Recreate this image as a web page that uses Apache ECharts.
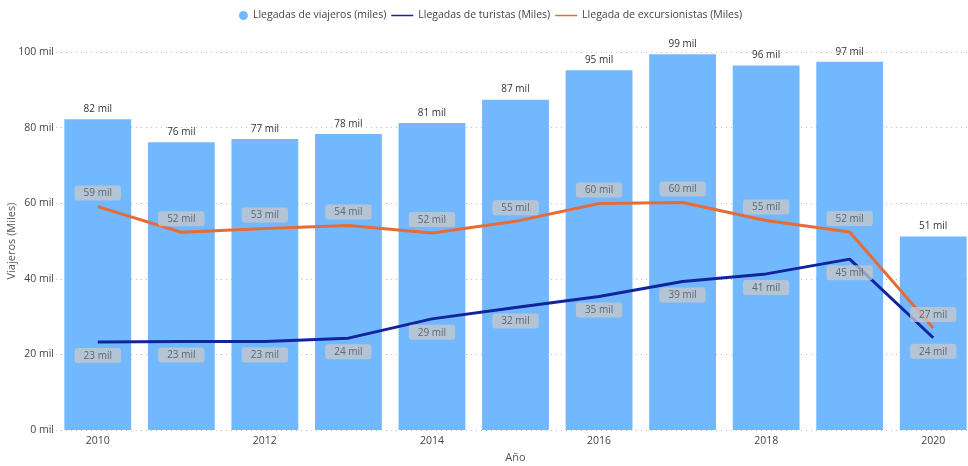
<!DOCTYPE html>
<html>
<head>
<meta charset="utf-8">
<script src="https://cdn.jsdelivr.net/npm/echarts@6/dist/echarts.min.js"></script>
<style>
  html, body { margin: 0; padding: 0; background: #fff; }
  #chart { width: 968px; height: 466px; }
</style>
</head>
<body>
<div id="chart"></div>
<script>
const years = ['2010', '2011', '2012', '2013', '2014', '2015', '2016', '2017', '2018', '2019', '2020']
const viajeros = [82.2, 76.1, 77.0, 78.3, 81.2, 87.4, 95.2, 99.4, 96.4, 97.4, 51.2]
const turistas = [23.3, 23.4, 23.4, 24.3, 29.4, 32.4, 35.3, 39.3, 41.3, 45.2, 24.4]
const excursionistas = [59.1, 52.3, 53.3, 54.1, 52.1, 55.2, 59.9, 60.2, 55.4, 52.4, 27.0]
const yTicks = [0, 20, 40, 60, 80, 100]

const font = 'Open Sans'
const fmt = v => Math.round(v) + ' mil'

// legend icons: short line for the line series, small dot for the bars
const lineIcon = 'path://M0,0L0.01,0L0.01,0.01ZM0,4.3H22V5.7H0ZM0,10L0.01,10L0.01,9.99Z'
const dotIcon = 'path://M0,5L0.01,5L0.01,5.01ZM13,5A4.5,4.5,0,1,1,22,5A4.5,4.5,0,1,1,13,5Z'

const chart = echarts.init(document.getElementById('chart'))

const lineLabel = pos => ({
  show: true,
  position: pos,
  distance: 6,
  formatter: p => fmt(p.value),
  color: '#666',
  fontFamily: font,
  fontSize: 10,
  backgroundColor: 'rgba(200,200,200,0.75)',
  borderRadius: 3,
  padding: [3, 9, 2, 9]
})

chart.setOption({
  textStyle: { fontFamily: font },
  animation: false,
  legend: {
    top: 5,
    left: 'center',
    itemGap: 5,
    itemWidth: 22,
    itemHeight: 10,
    textStyle: { color: '#444', fontSize: 10.5, fontFamily: font },
    data: [
      { name: 'Llegadas de viajeros (miles)', icon: dotIcon, itemStyle: { color: '#72B8FF' } },
      { name: 'Llegadas de turistas (Miles)', icon: lineIcon, itemStyle: { color: '#12239E' } },
      { name: 'Llegada de excursionistas (Miles)', icon: lineIcon, itemStyle: { color: '#E66C37' } }
    ]
  },
  grid: { left: 56, right: -7, top: 52, bottom: 36, outerBoundsMode: 'none' },
  xAxis: {
    type: 'category',
    data: years,
    name: 'Año',
    nameLocation: 'middle',
    nameGap: 22,
    nameMoveOverlap: false,
    nameTextStyle: { color: '#555', fontSize: 11, fontFamily: font },
    axisTick: { show: false },
    axisLine: { show: false },
    axisLabel: {
      color: '#444',
      fontSize: 10.5,
      margin: 6,
      interval: 1
    }
  },
  yAxis: {
    type: 'value',
    min: 0,
    max: 100,
    interval: 20,
    name: 'Viajeros (Miles)',
    nameLocation: 'middle',
    nameGap: 39,
    nameMoveOverlap: false,
    nameTextStyle: { color: '#555', fontSize: 11, fontFamily: font },
    axisLabel: {
      color: '#444',
      fontSize: 10.5,
      margin: 2,
      formatter: v => yTicks.includes(v) ? v + ' mil' : ''
    },
    splitLine: { lineStyle: { type: [1, 4], color: '#bdbdbd' } }
  },
  series: [
    {
      name: 'Llegadas de viajeros (miles)',
      type: 'bar',
      data: viajeros,
      barCategoryGap: '20%',
      itemStyle: { color: '#72B8FF' },
      label: {
        show: true,
        position: 'top',
        distance: 5,
        formatter: p => fmt(p.value),
        color: '#333',
        fontSize: 10
      }
    },
    {
      name: 'Llegadas de turistas (Miles)',
      type: 'line',
      data: turistas,
      symbol: 'circle',
      symbolSize: 0,
      showSymbol: true,
      lineStyle: { color: '#12239E', width: 3 },
      itemStyle: { color: '#12239E' },
      label: lineLabel('bottom'),
      z: 3
    },
    {
      name: 'Llegada de excursionistas (Miles)',
      type: 'line',
      data: excursionistas,
      symbol: 'circle',
      symbolSize: 0,
      showSymbol: true,
      lineStyle: { color: '#E66C37', width: 3 },
      itemStyle: { color: '#E66C37' },
      label: lineLabel('top'),
      z: 4
    }
  ]
})
</script>
</body>
</html>
